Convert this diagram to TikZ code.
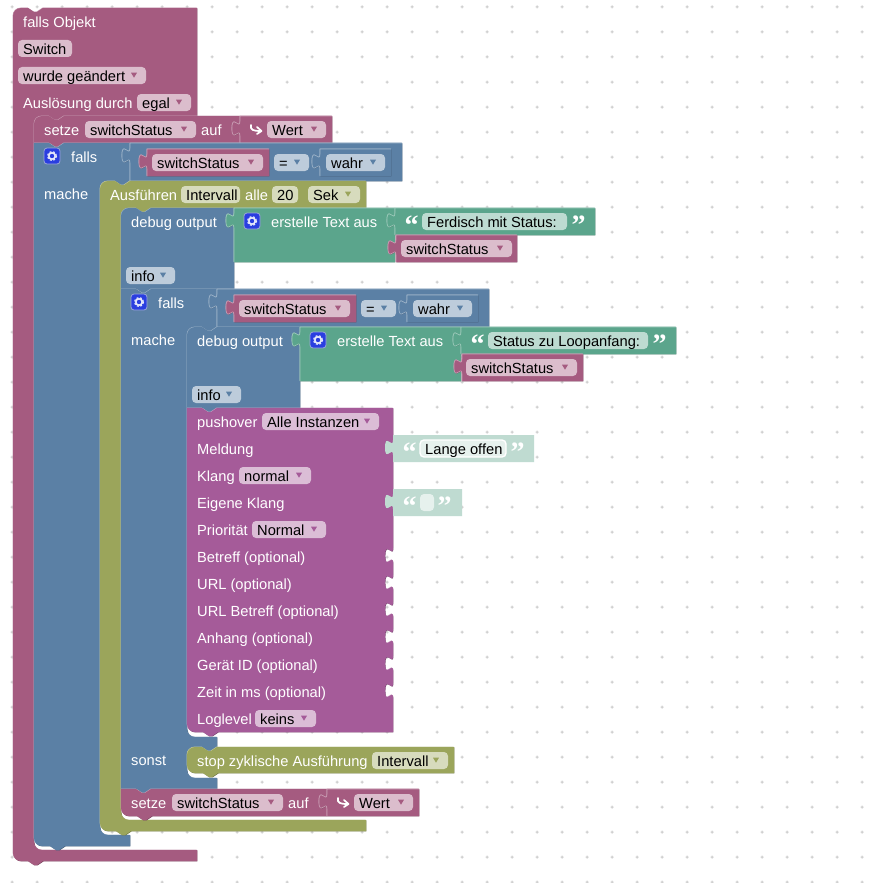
\documentclass[tikz,border=0pt]{standalone}
\usepackage{fontspec}
\setmainfont{Liberation Sans}
\newfontfamily\quotefont{Liberation Serif}
\definecolor{cMauve}{HTML}{A55B80}
\definecolor{cBlue}{HTML}{5B80A5}
\definecolor{cGreen}{HTML}{5BA58C}
\definecolor{cOlive}{HTML}{9BA55B}
\definecolor{cPurple}{HTML}{A55B99}
\definecolor{cShadow}{HTML}{BFDBD1}
\definecolor{fMauve}{HTML}{DBBDCC}
\definecolor{fBlue}{HTML}{BDCCDB}
\definecolor{fOlive}{HTML}{D7DBBD}
\definecolor{fGreen}{HTML}{BDDBD1}
\definecolor{fPurple}{HTML}{DBBDD6}
\definecolor{fShadow}{HTML}{E6F1ED}
\definecolor{cGrid}{HTML}{CCCCCC}
\definecolor{cGear}{HTML}{2A3EE0}
\definecolor{cGearLine}{HTML}{9CA8D8}
\newcount\txtcount
% path pieces
\def\cUR{.. controls +(0,-4.4) and +(-4.4,0) .. ++(8,-8)}
\def\cDR{.. controls +(0,4.4) and +(-4.4,0) .. ++(8,8)}
\def\cLD{.. controls +(-4.4,0) and +(0,-4.4) .. ++(-8,8)}
\def\nT{-- ++(6,4) -- ++(3,0) -- ++(6,-4)}
\def\nB{-- ++(-6,4) -- ++(-3,0) -- ++(-6,-4)}
\def\tabU{.. controls +(0,-10) and +(0,15.5) .. ++(-8,-7.5) .. controls +(0,-15.5) and +(0,10) .. ++(8,-7.5)}
\def\tabD{.. controls +(0,10) and +(0,-15.5) .. ++(-8,7.5) .. controls +(0,15.5) and +(0,-10) .. ++(8,7.5)}
\newcommand\blk[2]{%
  \fill[#1!72!black,shift={(.45,.45)}] #2;
  \fill[#1!60!white,shift={(-.4,-.4)}] #2;
  \fill[#1] #2;}
% value block with output tab: colour, left, top, right, bottom
\newcommand\valblk[5]{%
  \blk{#1}{(#2,#3) -- (#4,#3) -- (#4,#5) -- (#2,#5) -- ({#2},{#3+20}) \tabU -- cycle}
  \draw[#1!60!white,line width=.6pt,line join=round] (#2,#5) -- ({#2},{#3+20}) \tabU -- (#2,#3) -- (#4,#3);}
\newcommand\shadowblk[4]{%
  \fill[cShadow] (#1,#2) -- (#3,#2) -- (#3,#4) -- (#1,#4) -- ({#1},{#2+20}) \tabU -- cycle;}
\newcommand\txt[4][white]{%
  \global\advance\txtcount by 1
  \node[blocktext,text=#1] (t\the\txtcount) at (#2,#3) {#4};}
\newcommand\arrowmark[3]{%
  \fill[#3] ({#1-3},{#2+5.7}) -- ({#1+3},{#2+5.7}) -- ({#1},{#2+10.7}) -- cycle;}
% field: x1,x2,top,text,fill,arrow colour
\newcommand\fldA[6]{%
  \fill[#5,rounded corners=4pt] (#1,#3) rectangle (#2,{#3+17});
  \txt[black]{#1+5}{#3+14.1}{#4}
  \arrowmark{#2-12}{#3}{#6}}
\newcommand\fldN[5]{%
  \fill[#5,rounded corners=4pt] (#1,#3) rectangle (#2,{#3+17});
  \txt[black]{#1+5}{#3+14.1}{#4}}
\newcommand\gearicon[2]{%
  \filldraw[fill=cGear,draw=cGearLine,line width=.8pt,rounded corners=3pt] (#1,#2) rectangle ({#1+16},{#2+16});
  \fill[white!88!cGear] ({#1+8},{#2+8}) circle (4);
  \draw[white!88!cGear,line width=1.3pt,dash pattern=on 2pt off 1.6pt] ({#1+8},{#2+8}) circle (4.5);
  \fill[cGear] ({#1+8},{#2+8}) circle (2.2);}
\newcommand\qopen[3][white]{%
  \global\advance\txtcount by 1
  \node[quotetext,text=#1] (t\the\txtcount) at (#2,#3) {“};}
\newcommand\qclose[3][white]{%
  \global\advance\txtcount by 1
  \node[quotetext,text=#1] (t\the\txtcount) at (#2,#3) {”};}
\newcommand\hookarrow[2]{%
  \draw[white,line width=1.7pt,line cap=round,line join=round]
    ({#1+1},{#2+9}) .. controls ({#1},{#2+14}) and ({#1+3},{#2+15}) .. ({#1+11},{#2+15})
    ({#1+7},{#2+11}) -- ({#1+11.5},{#2+15}) -- ({#1+7},{#2+18});}
\tikzset{
  blocktext/.style={anchor=base west,inner sep=0pt,font=\fontsize{14.67}{16}\selectfont},
  quotetext/.style={anchor=base west,inner sep=0pt,font=\quotefont\bfseries\fontsize{28}{28}\selectfont},
}
\begin{document}
\begin{tikzpicture}[x=1pt,y=-1pt]
\useasboundingbox (0,0) rectangle (873,883);
\fill[white] (0,0) rectangle (873,883);
% grid
\foreach \gx in {12,37,...,862} \foreach \gy in {7,32,...,882}
  \fill[cGrid] ({\gx-1.5},{\gy-.5}) rectangle ({\gx+1.5},{\gy+.5}) ({\gx-.5},{\gy-1.5}) rectangle ({\gx+.5},{\gy+1.5});
% outer trigger block
\blk{cMauve}{(13,16) \cUR -- (28,8) \nT -- (197,8) -- (197,116) -- (64,116) \nB -- (42,116) \cLD -- (34,842) \cDR -- (197,850) -- (197,861) -- (43,861) \nB -- (21,861) .. controls +(-4.4,0) and +(0,4.4) .. ++(-8,-8) -- cycle}
\txt{23}{27.5}{falls Objekt}
\fldN{18}{72}{40}{Switch}{fMauve}
\fldA{18}{146}{67}{wurde geändert}{fMauve}{cMauve}
\txt{23}{108}{Auslösung durch}
\fldA{137}{191}{94}{egal}{fMauve}{cMauve}
% setze 1
\blk{cMauve}{(34,124) \cUR -- (49,116) \nT -- (240,116) -- (240,143) -- (65,143) \nB -- (34,143) -- cycle}
\txt{44}{135}{setze}
\fldA{85}{196}{121}{switchStatus}{fMauve}{cMauve}
\txt{201}{135}{auf}
\valblk{cMauve}{240}{116}{332}{143}
\hookarrow{250}{116}
\fldA{267}{326}{121}{Wert}{fMauve}{cMauve}
% falls 1
\blk{cBlue}{(34,143) -- (49,143) \nT -- (130,143) -- (130,181) \nB -- (108,181) \cLD -- (100,827) \cDR -- (130,835) -- (130,846) -- (65,846) \nB -- (42,846) .. controls +(-4.4,0) and +(0,4.4) .. ++(-8,-8) -- cycle}
\gearicon{44}{148}
\txt{71}{162}{falls}
\txt{44}{199}{mache}
\valblk{cBlue}{130}{143}{402}{181}
\valblk{cMauve}{147}{149}{269}{176}
\fldA{152}{263}{154}{switchStatus}{fMauve}{cMauve}
\fldA{274}{309}{154}{=}{fBlue}{cBlue}
\valblk{cBlue}{320}{149}{391}{176}
\fldA{326}{385}{154}{wahr}{fBlue}{cBlue}
% interval
\blk{cOlive}{(100,189) \cUR -- (115,181) \nT -- (366,181) -- (366,208) -- (151,208) \nB -- (129,208) \cLD -- (121,812) \cDR -- (366,820) -- (366,831) -- (131,831) \nB -- (108,831) .. controls +(-4.4,0) and +(0,4.4) .. ++(-8,-8) -- cycle}
\txt{110}{200}{Ausführen}
\fldN{181}{240}{186}{Intervall}{fOlive}
\txt{245}{200}{alle}
\fldN{272}{298}{186}{20}{fOlive}
\fldA{308}{360}{186}{Sek}{fOlive}{cOlive}
% debug 1
\blk{cBlue}{(121,216) \cUR -- (136,208) \nT -- (234,208) -- (234,289) -- (152,289) \nB -- (121,289) -- cycle}
\txt{131}{227}{debug output}
\fldA{126}{175}{267}{info}{fBlue}{cBlue}
\valblk{cGreen}{234}{208}{395}{262}
\gearicon{244}{213}
\txt{271}{227}{erstelle Text aus}
\valblk{cGreen}{395}{208}{595}{235}
\qopen{404.5}{234}
\fldN{422}{567}{213}{Ferdisch mit Status:}{fGreen}
\qclose{571.5}{234}
\valblk{cMauve}{396}{235}{517}{262}
\fldA{401}{512}{240}{switchStatus}{fMauve}{cMauve}
% falls 2
\blk{cBlue}{(121,289) -- (136,289) \nT -- (217,289) -- (217,327) \nB -- (195,327) \cLD -- (187,729) \cDR -- (217,737) -- (217,747) \nB -- (195,747) \cLD -- (187,770) \cDR -- (217,778) -- (217,789) -- (152,789) \nB -- (121,789) -- cycle}
\gearicon{131}{294}
\txt{158}{308}{falls}
\txt{131}{345}{mache}
\txt{131}{765}{sonst}
\valblk{cBlue}{217}{289}{489}{327}
\valblk{cMauve}{234}{295}{356}{322}
\fldA{239}{350}{300}{switchStatus}{fMauve}{cMauve}
\fldA{361}{396}{300}{=}{fBlue}{cBlue}
\valblk{cBlue}{407}{295}{478}{322}
\fldA{413}{472}{300}{wahr}{fBlue}{cBlue}
% debug 2
\blk{cBlue}{(187,335) \cUR -- (202,327) \nT -- (300,327) -- (300,408) -- (218,408) \nB -- (187,408) -- cycle}
\txt{197}{346}{debug output}
\fldA{192}{241}{386}{info}{fBlue}{cBlue}
\valblk{cGreen}{300}{327}{461}{381}
\gearicon{310}{332}
\txt{337}{346}{erstelle Text aus}
\valblk{cGreen}{461}{327}{676}{354}
\qopen{470.5}{353}
\fldN{488}{648}{332}{Status zu Loopanfang:}{fGreen}
\qclose{652.5}{353}
\valblk{cMauve}{462}{354}{583}{381}
\fldA{466}{577}{359}{switchStatus}{fMauve}{cMauve}
% pushover
\blk{cPurple}{(187,408) -- (202,408) \nT -- (393,408)
  -- (393,440) \tabD -- (393,494) \tabD -- (393,548) \tabD -- (393,575) \tabD -- (393,602) \tabD -- (393,629) \tabD -- (393,656) \tabD -- (393,683) \tabD
  -- (393,732) -- (218,732) \nB -- (195,732) .. controls +(-4.4,0) and +(0,4.4) .. ++(-8,-8) -- cycle}
\txt{197}{427}{pushover}
\fldA{262}{379}{413}{Alle Instanzen}{fPurple}{cPurple}
\txt{197}{454}{Meldung}
\txt{197}{481}{Klang}
\fldA{239}{311}{467}{normal}{fPurple}{cPurple}
\txt{197}{508}{Eigene Klang}
\txt{197}{535}{Priorität}
\fldA{252}{326}{521}{Normal}{fPurple}{cPurple}
\txt{197}{562}{Betreff (optional)}
\txt{197}{589}{URL (optional)}
\txt{197}{616}{URL Betreff (optional)}
\txt{197}{643}{Anhang (optional)}
\txt{197}{670}{Gerät ID (optional)}
\txt{197}{697}{Zeit in ms (optional)}
\txt{197}{724}{Loglevel}
\fldA{255}{316}{710}{keins}{fPurple}{cPurple}
% shadow text blocks
\shadowblk{393}{435}{534}{462}
\qopen{402.5}{461}
\filldraw[fill=fShadow,draw=white,line width=1.4pt,rounded corners=4pt] (420,440) rectangle (506,457);
\txt[black]{425}{454.1}{Lange offen}
\qclose{510.5}{461}
\shadowblk{393}{489}{462}{516}
\qopen{402.5}{515}
\fill[fShadow,rounded corners=4pt] (420,494) rectangle (434,511);
\qclose{437.5}{515}
% stop
\blk{cOlive}{(187,755) \cUR -- (202,747) \nT -- (454,747) -- (454,773) -- (218,773) \nB -- (195,773) .. controls +(-4.4,0) and +(0,4.4) .. ++(-8,-8) -- cycle}
\txt{197}{766}{stop zyklische Ausführung}
\fldA{372}{448}{752}{Intervall}{fOlive}{cOlive}
% setze 2
\blk{cMauve}{(121,789) -- (136,789) \nT -- (327,789) -- (327,816) -- (152,816) \nB -- (129,816) .. controls +(-4.4,0) and +(0,4.4) .. ++(-8,-8) -- cycle}
\txt{131}{808}{setze}
\fldA{172}{283}{794}{switchStatus}{fMauve}{cMauve}
\txt{288}{808}{auf}
\valblk{cMauve}{327}{789}{419}{816}
\hookarrow{337}{789}
\fldA{354}{413}{794}{Wert}{fMauve}{cMauve}
\end{tikzpicture}
\end{document}
